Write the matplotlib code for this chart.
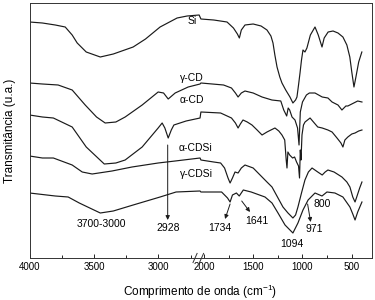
import matplotlib
matplotlib.use("Agg")
import matplotlib.pyplot as plt
import numpy as np

plt.rcParams['font.family'] = ['Liberation Sans', 'DejaVu Sans']
plt.rcParams['mathtext.fontset'] = 'custom'
plt.rcParams['mathtext.rm'] = 'Liberation Sans'

# spectra: wavenumber (cm-1) and transmittance (arbitrary units, offset per curve)
si_w = [4000, 3900, 3800, 3723, 3669, 3630, 3560, 3451, 3350, 3196, 3100, 2987, 2855, 2777, 2684,
        2030, 1900, 1765, 1700, 1660, 1640, 1620, 1583, 1500, 1420, 1360, 1320, 1299, 1280, 1258,
        1230, 1208, 1170, 1127, 1097, 1070, 1056, 1040, 1025, 1010, 995, 975, 955, 920, 873, 840,
        802, 780, 740, 690, 640, 590, 550, 520, 500, 478, 460, 430, 398]
si_t = [236, 235, 233, 231, 223, 215, 206, 201, 204, 211, 219, 231, 240, 242, 243,
        239, 238, 236, 230, 224, 220, 228, 233, 234, 232, 228, 222, 215, 203, 191,
        181, 175, 168, 161, 155, 158, 161, 173, 185, 198, 208, 206, 210, 223, 231, 223,
        211, 220, 226, 227, 225, 221, 213, 201, 186, 171, 180, 196, 206]

gcd_w = [4000, 3900, 3778, 3669, 3568, 3480, 3413, 3330, 3258, 3126, 3002, 2960, 2924, 2870, 2769, 2676,
         2030, 1800, 1720, 1680, 1653, 1620, 1583, 1500, 1410, 1310, 1220, 1190, 1160, 1145, 1130,
         1106, 1076, 1050, 1035, 1022, 1000, 960, 930, 873, 800, 742, 700, 640, 600, 560, 540, 480,
         440, 397]
gcd_t = [175, 174, 173, 168, 153, 141, 135, 136, 141, 153, 166, 165, 159, 165, 171, 174,
         175, 173, 170, 165, 161, 165, 167, 165, 161, 158, 157, 148, 142, 150, 148,
         141, 138, 130, 113, 146, 156, 163, 165, 165, 161, 160, 156, 153, 148, 152, 152, 155,
         157, 156]

acd_w = [4000, 3900, 3815, 3669, 3560, 3420, 3330, 3258, 3126, 3002, 2971, 2950, 2924, 2900, 2880, 2785, 2676,
         2030, 1830, 1720, 1680, 1653, 1630, 1603, 1560, 1512, 1460, 1410, 1360, 1320, 1279, 1240,
         1208, 1180, 1165, 1157, 1148, 1130, 1100, 1080, 1060, 1040, 1030, 1022, 1015, 1005, 990,
         974, 923, 880, 845, 800, 742, 700, 650, 610, 590, 570, 540, 500, 467, 430, 397]
acd_t = [143, 141, 140, 131, 111, 94, 95, 98, 111, 130, 135, 130, 120, 128, 133, 137, 140,
         146, 145, 140, 135, 130, 134, 138, 136, 133, 128, 123, 126, 128, 130, 127,
         123, 118, 98, 90, 106, 103, 100, 101, 96, 92, 80, 108, 98, 123, 133,
         136, 140, 135, 131, 130, 128, 126, 120, 115, 111, 118, 121, 124, 125, 127, 128]

acdsi_w = [4000, 3900, 3815, 3669, 3591, 3514, 3360, 3205, 3002, 2870, 2676,
           2030, 1900, 1830, 1790, 1755, 1734, 1710, 1684, 1653, 1620, 1583, 1500, 1410, 1360,
           1309, 1248, 1198, 1147, 1097, 1070, 1046, 1010, 975, 940, 903, 845, 800, 770, 742,
           680, 600, 550, 519, 490, 467, 450, 420, 397]
acdsi_t = [102, 100, 100, 93, 86, 84, 87, 91, 95, 97, 100,
           98, 96, 95, 90, 80, 75, 80, 86, 85, 90, 93, 90, 81, 76,
           71, 60, 51, 45, 40, 43, 51, 65, 78, 86, 90, 86, 83, 86, 88,
           86, 81, 76, 71, 61, 56, 61, 70, 76]

gcdsi_w = [4000, 3800, 3700, 3614, 3500, 3451, 3350, 3196, 2987, 2863, 2676,
           2030, 1820, 1760, 1734, 1710, 1670, 1641, 1600, 1520, 1380, 1309, 1248, 1177, 1127,
           1097, 1046, 995, 943, 873, 802, 752, 671, 590, 519, 490, 467, 440, 397]
gcdsi_t = [65, 62, 61, 55, 48, 45, 47, 53, 61, 66, 67,
           66, 66, 60, 56, 63, 65, 62, 68, 66, 61, 55, 45, 33, 28,
           25, 35, 48, 58, 65, 62, 66, 65, 61, 51, 44, 38, 46, 56]

major_ticks = [4000, 3500, 3000, 2000, 1500, 1000, 500]
minor_ticks = [3750, 3250, 2750, 1750, 1250, 750]

# broken x axis: 4000-2677 and 2038-300 with different scales
W_L, W_R = 2677.0, 2038.0
K_L, K_R, K_G = 0.129, 0.0987, 1e-4
U_R = (W_R - W_L) * K_G


def fwd(w):
    w = np.asarray(w, dtype=float)
    return np.where(w >= W_L, (w - W_L) * K_L,
                    np.where(w >= W_R, (w - W_L) * K_G, U_R + (w - W_R) * K_R))


def inv(u):
    u = np.asarray(u, dtype=float)
    return np.where(u >= 0, W_L + u / K_L,
                    np.where(u >= U_R, W_L + u / K_G, W_R + (u - U_R) / K_R))


fig = plt.figure(figsize=(3.75, 3.0), dpi=100)
ax = fig.add_axes([0.0787, 0.14, 0.9120, 0.85])
ax.set_xscale('function', functions=(fwd, inv))

for w, t in [(si_w, si_t), (gcd_w, gcd_t), (acd_w, acd_t), (acdsi_w, acdsi_t), (gcdsi_w, gcdsi_t)]:
    ax.plot(w, t, color='#1a1a1a', lw=0.85)

ax.set_xlim(4000, 300)
ax.set_ylim(0, 255)
ax.set_xticks(major_ticks)
ax.set_xticklabels([str(v) for v in major_ticks])
ax.set_xticks(minor_ticks, minor=True)
ax.set_yticks([])
ax.tick_params(axis='x', which='major', direction='in', length=3, width=0.6, labelsize=7, pad=3)
ax.tick_params(axis='x', which='minor', direction='in', length=2, width=0.6)
for s in ax.spines.values():
    s.set_linewidth(0.7)
    s.set_color('#333333')

ax.set_xlabel(r'Comprimento de onda (cm$^{-1}$)', fontsize=8.5, labelpad=8)
ax.set_ylabel('Transmitância (u.a.)', fontsize=8.5, labelpad=10)

# axis break marks
for xf in (0.484, 0.503):
    ax.plot([xf - 0.006, xf + 0.006], [-0.018, 0.018], transform=ax.transAxes,
            color='#333333', lw=0.7, clip_on=False)

# curve labels
fs = 7.5
ax.text(2738, 237, 'Si', ha='center', va='center', fontsize=fs)
ax.text(2738, 180, 'γ-CD', ha='center', va='center', fontsize=fs)
ax.text(2738, 158, 'α-CD', ha='center', va='center', fontsize=fs)
ax.text(2715, 110, 'α-CDSi', ha='center', va='center', fontsize=fs)
ax.text(2707, 84, 'γ-CDSi', ha='center', va='center', fontsize=fs)

# band annotations
ax.text(3444, 34, '3700-3000', ha='center', va='center', fontsize=fs)
ax.text(2928, 30, '2928', ha='center', va='center', fontsize=fs)
ax.text(1834, 30, '1734', ha='center', va='center', fontsize=fs)
ax.text(1461, 37, '1641', ha='center', va='center', fontsize=fs)
ax.text(1110, 14, '1094', ha='center', va='center', fontsize=fs)
ax.text(876, 29, '971', ha='center', va='center', fontsize=fs)
ax.text(805, 54, '800', ha='center', va='center', fontsize=fs)

arrow = dict(arrowstyle='-|>', color='#1a1a1a', lw=0.7, mutation_scale=6, shrinkA=0, shrinkB=0)
ax.annotate('', xy=(2928, 38), xytext=(2928, 113), arrowprops=arrow)
ax.annotate('', xy=(1785, 39), xytext=(1734, 54), arrowprops=arrow)
ax.annotate('', xy=(1532, 46), xytext=(1616, 57), arrowprops=arrow)
ax.annotate('', xy=(917, 36), xytext=(948, 54), arrowprops=arrow)

fig.savefig('out.png', dpi=100)
